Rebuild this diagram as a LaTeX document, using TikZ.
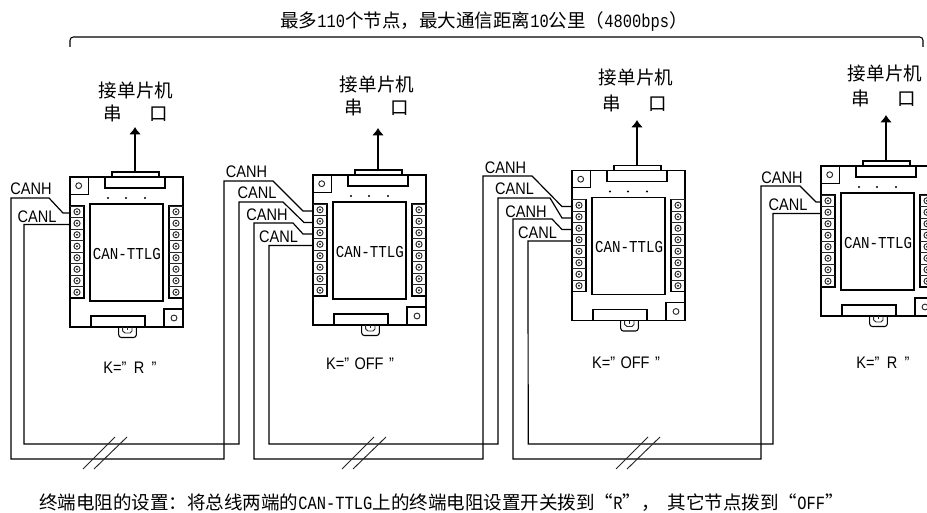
\documentclass[tikz,border=0pt]{standalone}
\usepackage{fontspec}
\usetikzlibrary{arrows.meta}
\setmainfont{Liberation Sans}
\newfontfamily\cjk{Noto Sans CJK SC}
\newfontfamily\monof{Liberation Mono}
\newcommand{\cjktxt}[1]{{\fontsize{13.9pt}{14pt}\cjk #1}}
\newcommand{\mix}[1]{\scalebox{0.826}[1]{\fontsize{14pt}{15pt}\monof #1}}
\newcommand{\boardtxt}[1]{\scalebox{0.85}[1]{\fontsize{12.5pt}{14pt}\monof #1}}
\newcommand{\sanstxt}[1]{\scalebox{1}[1.15]{\fontsize{10.9pt}{12pt}\selectfont #1}}
\tikzset{
  x=0.75pt,y=-0.75pt,
  wire/.style={line width=0.9pt,black},
  part/.style={line width=0.8pt,black},
  thin part/.style={line width=0.7pt,black!85},
  lab/.style={inner sep=0pt,outer sep=0pt,anchor=center},
  outarrow/.style={line width=2pt,black,-{Latex[length=5.5pt,width=9pt]}},
  slash/.style={line width=0.7pt,black!85},
}
% \boardunit{name}{x}{y}
\newcommand{\boardunit}[3]{%
  \begin{scope}[shift={(#2,#3)}]
    \draw[part] (0,0) rectangle (113,150);
    \draw[part] (0,17.3) -| (18.5,0);
    \draw[thin part] (8.7,8.7) circle (2.2pt);
    \draw[part] (35,0) -- (35,11) -- (95,11) -- (95,0);
    \draw[part] (42,0) -- (42,-5) -- (89,-5) -- (89,0);
    \foreach \dx in {38,56,75}{\fill[black] (\dx,21) circle (0.9pt);}
    \draw[part] (20,27) rectangle (93,124);
    \draw[part] (0,29) rectangle (14,121);
    \draw[part] (99,29) rectangle (113,121);
    \foreach \i in {0,...,7}{
      \draw[thin part] (0,29+11.5*\i) -- (14,29+11.5*\i);
      \draw[thin part] (99,29+11.5*\i) -- (113,29+11.5*\i);
      \draw[thin part] (7,34.75+11.5*\i) circle (2.3pt);
      \fill[black!85] (7,34.75+11.5*\i) circle (0.8pt);
      \draw[thin part] (106,34.75+11.5*\i) circle (2.3pt);
      \fill[black!85] (106,34.75+11.5*\i) circle (0.8pt);
    }
    \draw[part] (94,150) |- (113,132);
    \draw[thin part] (104,141) circle (2.2pt);
    \draw[part] (21,150) |- (75,139) -- (75,150);
    \draw[part,rounded corners=2pt] (48.7,150) -- (48.7,160.5) -- (66.3,160.5) -- (66.3,150);
    \draw[thin part] (52.7,150) -- (52.7,154) -- (55,156) -- (60,156) -- (62,154) -- (62,150);
    \draw[thin part] (57.3,150) -- (57.3,153);
    \node[lab] (#1-name) at (57,77) {\boardtxt{CAN-TTLG}};
    \coordinate (#1-top) at (65,-5);
    \coordinate (#1-p1) at (0,36);
    \coordinate (#1-p2) at (0,47.5);
    \coordinate (#1-p3) at (0,59);
    \coordinate (#1-p4) at (0,70.5);
  \end{scope}}
\begin{document}
\begin{tikzpicture}
\useasboundingbox (0,0) rectangle (927,513);
\clip (0,0) rectangle (927,513);
\fill[white] (0,0) rectangle (927,513);

% title and bracket
\node[lab] (title) at (484,22) {\cjktxt{最多}\mix{110}\cjktxt{个节点，最大通信距离}\mix{10}\cjktxt{公里（}\mix{4800bps}\cjktxt{）}};
\coordinate (brL) at (70,47);
\coordinate (brR) at (923,47);
\draw[part,rounded corners=2.5pt] (brL) -- (70,37) -- (923,37) -- (brR);

% boards
\boardunit{m1}{70}{177}
\boardunit{m2}{313}{175}
\boardunit{m3}{572}{170.5}
\boardunit{m4}{821}{166}

% MCU labels
\node[lab] (a1) at (136,90) {\cjktxt{接单片机}};
\node[lab] (b1) at (136,113) {\cjktxt{串\hspace{21pt}口}};
\node[lab] (a2) at (377,84) {\cjktxt{接单片机}};
\node[lab] (b2) at (377,107) {\cjktxt{串\hspace{21pt}口}};
\node[lab] (a3) at (636,77) {\cjktxt{接单片机}};
\node[lab] (b3) at (635,103) {\cjktxt{串\hspace{21pt}口}};
\node[lab] (a4) at (885,73) {\cjktxt{接单片机}};
\node[lab] (b4) at (884,98) {\cjktxt{串\hspace{21pt}口}};

% arrows
\coordinate (t1) at (135,127);
\coordinate (t2) at (378,128);
\coordinate (t3) at (637,120);
\coordinate (t4) at (886,115);
\draw[outarrow] (m1-top) -- (t1);
\draw[outarrow] (m2-top) -- (t2);
\draw[outarrow] (m3-top) -- (t3);
\draw[outarrow] (m4-top) -- (t4);

% wires
\draw[wire] (m1-p1) -- (63,213) -- (49,198) -- (11,198) -- (11,459) -- (224,459) -- (224,181) -- (273,181) -- (303,211) -- (m2-p1);
\draw[wire] (m1-p2) -- (24,224.5) -- (24,444) -- (239,444) -- (239,202) -- (283,202) -- (304,222.5) -- (m2-p2);
\draw[wire] (m2-p3) -- (303,234) -- (293,223) -- (254,223) -- (254,459) -- (483,459) -- (483,176) -- (532,176) -- (562,206.5) -- (m3-p1);
\draw[wire] (m2-p4) -- (269,245.5) -- (269,444) -- (498,444) -- (498,198) -- (550,198) -- (562,218) -- (m3-p2);
\draw[wire] (m3-p3) -- (562,229.5) -- (552,219) -- (513,219) -- (513,459) -- (761,459) -- (761,186) -- (800,186) -- (816,202) -- (m4-p1);
\draw[wire] (m3-p4) -- (528,241) -- (528.2,444) -- (773,444) -- (773,213.5) -- (m4-p2);

% break marks
\foreach \bx in {83,342,616}{
  \draw[slash] (\bx,469) -- (\bx+32,437);
  \draw[slash] (\bx+11,469) -- (\bx+44,437);
}

% wire labels
\node[lab] (h1) at (31,189) {\sanstxt{CANH}};
\node[lab] (l1) at (37,217) {\sanstxt{CANL}};
\node[lab] (h2a) at (246.5,172) {\sanstxt{CANH}};
\node[lab] (l2a) at (257,193) {\sanstxt{CANL}};
\node[lab] (h2b) at (267,215) {\sanstxt{CANH}};
\node[lab] (l2b) at (278.5,237) {\sanstxt{CANL}};
\node[lab] (h3a) at (505.5,168) {\sanstxt{CANH}};
\node[lab] (l3a) at (514.5,189) {\sanstxt{CANL}};
\node[lab] (h3b) at (526,212) {\sanstxt{CANH}};
\node[lab] (l3b) at (537.5,233) {\sanstxt{CANL}};
\node[lab] (h4) at (782,178) {\sanstxt{CANH}};
\node[lab] (l4) at (788,205) {\sanstxt{CANL}};

% switch labels
\node[lab] (k1) at (130,368) {\sanstxt{K="\hspace{2.5pt} R\hspace{2.5pt} "}};
\node[lab] (k2) at (360,364) {\sanstxt{K="\hspace{1pt} OFF\hspace{1pt} "}};
\node[lab] (k3) at (626,363) {\sanstxt{K="\hspace{1pt} OFF\hspace{1pt} "}};
\node[lab] (k4) at (883,363) {\sanstxt{K="\hspace{2.5pt} R\hspace{2.5pt} "}};

% footer
\node[lab,anchor=west] (foot) at (39,503) {\cjktxt{终端电阻的设置：将总线两端的}\mix{CAN-TTLG}\cjktxt{上的终端电阻设置开关拨到“}\mix{R}\cjktxt{”，}\hspace{6pt}\cjktxt{其它节点拨到“}\mix{OFF}\cjktxt{”}};
\end{tikzpicture}
\end{document}
